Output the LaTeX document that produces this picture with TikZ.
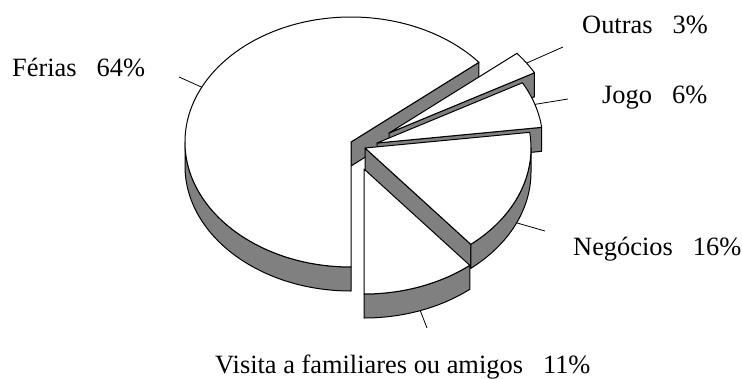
\documentclass[tikz,border=0pt]{standalone}
\usepackage{fontspec}
\setmainfont{Liberation Serif}
\tikzset{
  % Specifications for style of the pie pieces:
  base/.style = {
    draw=black,
    line width=1pt,
    line join=round
  },
  wall/.style = {
    base,
    fill=gray
  },
  face/.style = {
    base,
    fill=white
  },
  % Specifications for style of the labels:
  pielabel/.style = {
    anchor=base west,
    inner sep=0pt,
    font=\fontsize{26.4}{30}\selectfont
  },
  leader/.style = {
    draw=black,
    line width=0.8pt
  },
}
\def\pierx{166}
\def\piery{125}
\def\piet{24}
\def\cutface#1#2{
  \draw[wall] (#1) -- ++({\pierx*cos(#2)},{\piery*sin(#2)}) -- ++(0,\piet)
    -- ++({-\pierx*cos(#2)},{-\piery*sin(#2)}) -- cycle;
}
\def\rimside#1#2#3{
  \draw[wall] (#1) ++({\pierx*cos(#2)},{\piery*sin(#2)})
    arc[start angle=#2, end angle=#3, x radius=\pierx, y radius=\piery]
    -- ++(0,\piet)
    arc[start angle=#3, end angle=#2, x radius=\pierx, y radius=\piery] -- cycle;
}
\def\topface#1#2#3{
  \draw[face] (#1) -- ++({\pierx*cos(#2)},{\piery*sin(#2)})
    arc[start angle=#2, end angle=#3, x radius=\pierx, y radius=\piery] -- cycle;
}
\begin{document}
\begin{tikzpicture}[x=1pt, y=-1pt]
    \useasboundingbox (0,0) rectangle (742,378);
    % Tips of the pieces
    \coordinate (ferias-apex)   at (351,142);
    \coordinate (outras-apex)   at (389,133);
    \coordinate (jogo-apex)     at (377,143);
    \coordinate (negocios-apex) at (365,148);
    \coordinate (visita-apex)   at (364,169);
    % Pieces, from back to front
    \cutface{ferias-apex}{320.4}
    \rimside{ferias-apex}{90}{180}
    \topface{ferias-apex}{90}{320.4}
    \cutface{outras-apex}{331.2}
    \topface{outras-apex}{320.4}{331.2}
    \cutface{jogo-apex}{352.8}
    \topface{jogo-apex}{331.2}{352.8}
    \cutface{negocios-apex}{50.4}
    \rimside{negocios-apex}{0}{50.4}
    \topface{negocios-apex}{352.8}{410.4}
    \rimside{visita-apex}{50.4}{90}
    \topface{visita-apex}{50.4}{90}
    % Labels
    \node[pielabel] (ferias)   at (12,76)   {Férias\hspace{20pt}64\%};
    \node[pielabel] (outras)   at (582,33)  {Outras\hspace{20pt}3\%};
    \node[pielabel] (jogo)     at (602,103) {Jogo\hspace{20pt}6\%};
    \node[pielabel] (negocios) at (573,255) {Negócios\hspace{20pt}16\%};
    \node[pielabel] (visita)   at (215,373) {Visita a familiares ou amigos\hspace{20pt}11\%};
    % Leader lines
    \path (ferias-apex) ++({\pierx*cos(206)},{\piery*sin(206)}) coordinate (ferias-rim);
    \path (outras-apex) ++({\pierx*cos(326)},{\piery*sin(326)}) coordinate (outras-rim);
    \path (jogo-apex) ++({\pierx*cos(342)},{\piery*sin(342)}) coordinate (jogo-rim);
    \path (negocios-apex) ++({\pierx*cos(24)},{\piery*sin(24)+\piet}) coordinate (negocios-rim);
    \path (visita-apex) ++({\pierx*cos(70.2)},{\piery*sin(70.2)+\piet}) coordinate (visita-rim);
    \coordinate (ferias-end)   at (179,77);
    \coordinate (outras-end)   at (563,47);
    \coordinate (jogo-end)     at (568,99);
    \coordinate (negocios-end) at (545,231);
    \coordinate (visita-end)   at (427,328);
    \draw[leader] (ferias-rim)   -- (ferias-end);
    \draw[leader] (outras-rim)   -- (outras-end);
    \draw[leader] (jogo-rim)     -- (jogo-end);
    \draw[leader] (negocios-rim) -- (negocios-end);
    \draw[leader] (visita-rim)   -- (visita-end);
  \end{tikzpicture}
\end{document}
